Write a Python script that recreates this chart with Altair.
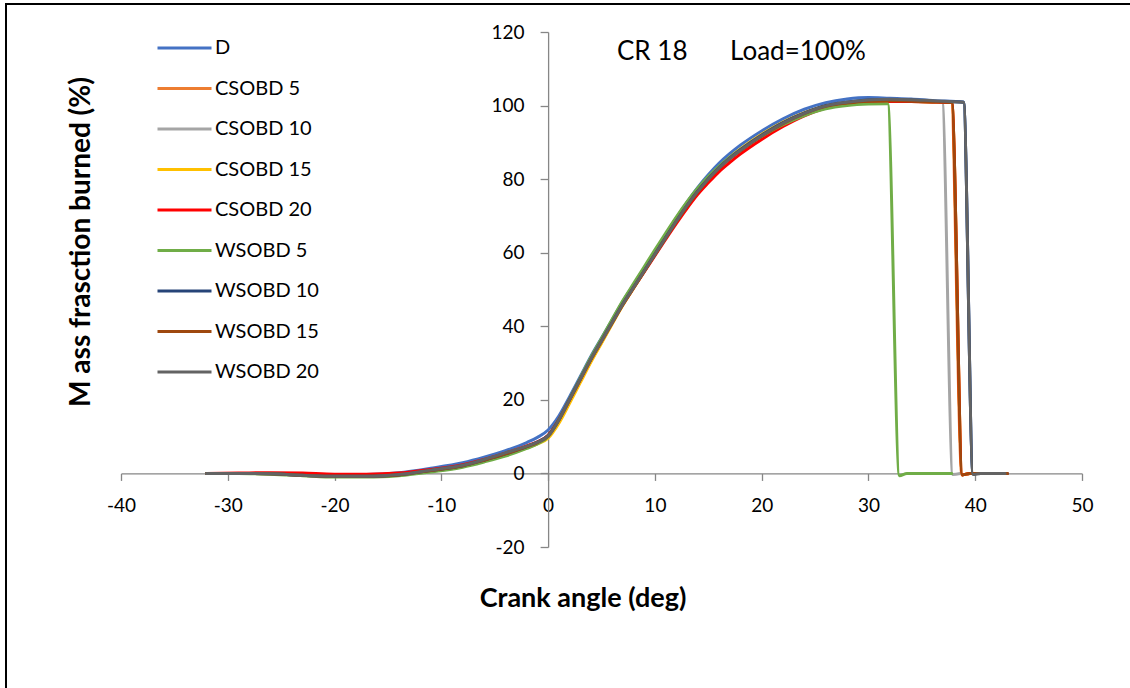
import altair as alt
import pandas as pd

# Series names and line colours
SERIES = ["D", "CSOBD 5", "CSOBD 10", "CSOBD 15", "CSOBD 20",
          "WSOBD 5", "WSOBD 10", "WSOBD 15", "WSOBD 20"]
COLORS = ["#4472C4", "#ED7D31", "#A5A5A5", "#FFC000", "#FF0000",
          "#70AD47", "#264478", "#9E480E", "#636363"]

# Crank angle grid shared by every series (deg)
ANGLE = [-32, -29, -26, -23, -20, -17, -14, -11, -8, -6, -4, -2, -1, 0,
         1, 2, 3, 4, 5, 6, 7, 8, 9, 10, 11, 12, 13, 14, 15, 16, 17, 18,
         20, 22, 24, 26, 28, 30]

# Mass fraction burned (%) on that grid
MFB_D = [0.0, 0.0, 0.0, -0.2, -0.4, -0.3, 0.2, 1.4, 2.9, 4.4, 6.2, 8.4, 9.8, 11.8,
         15.6, 20.8, 26.3, 31.8, 36.8, 41.8, 46.8, 51.3, 55.8, 60.3, 64.9, 69.4,
         73.7, 77.7, 81.2, 84.3, 86.9, 89.2, 93.1, 96.4, 99.0, 100.8, 101.8, 102.2]
MFB_CSOBD5 = [0.0, 0.0, 0.0, -0.3, -0.6, -0.6, -0.2, 0.8, 2.1, 3.5, 5.2, 7.2, 8.4, 10.3,
              14.6, 20.0, 25.4, 30.8, 35.9, 41.0, 46.0, 50.6, 55.2, 59.8, 64.3, 68.8,
              73.0, 76.9, 80.2, 83.2, 85.8, 88.0, 92.0, 95.3, 97.9, 99.8, 100.7, 101.1]
MFB_CSOBD10 = [0.0, 0.0, -0.1, -0.4, -0.7, -0.7, -0.3, 0.7, 2.0, 3.4, 5.0, 7.0, 8.2, 10.0,
               14.2, 19.6, 25.0, 30.5, 35.6, 40.8, 45.8, 50.4, 55.0, 59.6, 64.1, 68.6,
               72.8, 76.7, 80.0, 83.0, 85.6, 87.8, 91.7, 95.0, 97.7, 99.7, 100.7, 101.1]
MFB_CSOBD15 = [0.0, 0.0, -0.1, -0.4, -0.7, -0.7, -0.3, 0.7, 2.0, 3.4, 5.0, 6.9, 8.0, 9.6,
               13.6, 19.0, 24.6, 30.2, 35.4, 40.6, 45.7, 50.3, 54.9, 59.5, 64.1, 68.6,
               72.9, 76.8, 80.2, 83.3, 85.9, 88.2, 92.2, 95.5, 98.1, 99.9, 100.8, 101.2]
MFB_CSOBD20 = [0.0, 0.1, 0.2, 0.1, -0.2, -0.2, 0.1, 1.1, 2.4, 3.8, 5.5, 7.5, 8.6, 10.4,
               14.6, 20.0, 25.5, 31.0, 36.0, 41.0, 45.9, 50.4, 54.8, 59.2, 63.6, 67.9,
               72.0, 75.8, 79.0, 82.0, 84.5, 86.8, 90.8, 94.3, 97.2, 99.3, 100.5, 101.0]
MFB_WSOBD5 = [0.0, 0.0, -0.2, -0.6, -1.0, -1.0, -0.6, 0.4, 1.7, 3.1, 4.7, 6.8, 8.0, 10.0,
              14.5, 20.2, 25.9, 31.5, 36.7, 41.9, 47.0, 51.6, 56.2, 60.8, 65.3, 69.7,
              73.8, 77.5, 80.7, 83.5, 85.9, 88.0, 91.7, 94.8, 97.3, 99.1, 100.0, 100.4]
MFB_WSOBD10 = [0.0, 0.0, -0.1, -0.5, -0.8, -0.8, -0.4, 0.8, 2.1, 3.6, 5.3, 7.3, 8.5, 10.3,
               14.6, 20.1, 25.6, 31.0, 36.1, 41.1, 46.1, 50.6, 55.1, 59.6, 64.1, 68.6,
               72.8, 76.7, 80.1, 83.1, 85.7, 88.0, 92.0, 95.4, 98.0, 100.0, 101.0, 101.5]
MFB_WSOBD15 = [0.0, 0.0, -0.1, -0.5, -0.8, -0.8, -0.4, 0.8, 2.1, 3.6, 5.3, 7.3, 8.4, 10.1,
               14.4, 19.9, 25.4, 30.9, 35.9, 40.9, 45.9, 50.4, 54.9, 59.4, 63.9, 68.4,
               72.6, 76.5, 79.9, 82.9, 85.5, 87.7, 91.7, 95.1, 97.8, 99.8, 100.7, 101.2]
MFB_WSOBD20 = [0.0, 0.0, -0.1, -0.5, -0.8, -0.8, -0.3, 0.9, 2.2, 3.8, 5.6, 7.4, 8.5, 10.2,
               14.5, 20.0, 25.5, 31.0, 36.0, 41.0, 46.0, 50.5, 55.0, 59.5, 64.0, 68.5,
               72.8, 76.6, 80.0, 83.0, 85.6, 87.8, 91.8, 95.2, 97.9, 99.9, 100.9, 101.5]

# End of each record: plateau, then the drop back to zero
TAIL_ANGLE_D = [32, 34, 36, 38.9, 39.8, 41, 43]
TAIL_MFB_D = [102.0, 101.8, 101.4, 101.0, 0.0, 0.0, 0.0]
TAIL_ANGLE_CSOBD5 = [32, 34, 36, 37.75, 38.75, 39.5, 41, 43]
TAIL_MFB_CSOBD5 = [101.2, 101.1, 101.0, 100.8, -0.4, 0.0, 0.0, 0.0]
TAIL_ANGLE_CSOBD10 = [32, 34, 36.9, 37.9, 38.6]
TAIL_MFB_CSOBD10 = [101.2, 101.1, 101.0, -0.3, 0.0]
TAIL_ANGLE_CSOBD15 = [32, 34, 36, 37.8, 38.8, 39.5, 41, 43]
TAIL_MFB_CSOBD15 = [101.3, 101.2, 101.0, 100.8, -0.4, 0.0, 0.0, 0.0]
TAIL_ANGLE_CSOBD20 = [32, 34, 36, 37.8, 38.8, 39.5, 41, 43]
TAIL_MFB_CSOBD20 = [101.1, 101.1, 101.0, 100.8, -0.4, 0.0, 0.0, 0.0]
TAIL_ANGLE_WSOBD5 = [31.8, 32.9, 33.6, 35.5, 37.8]
TAIL_MFB_WSOBD5 = [100.5, -0.6, 0.0, 0.0, 0.0]
TAIL_ANGLE_WSOBD10 = [32, 34, 36, 38.9, 39.8, 41, 43]
TAIL_MFB_WSOBD10 = [101.6, 101.5, 101.2, 100.9, 0.0, 0.0, 0.0]
TAIL_ANGLE_WSOBD15 = [32, 34, 36, 37.8, 38.8, 39.5, 41, 43]
TAIL_MFB_WSOBD15 = [101.3, 101.2, 101.0, 100.8, -0.4, 0.0, 0.0, 0.0]
TAIL_ANGLE_WSOBD20 = [32, 34, 36, 38.9, 39.8, 40.5, 42.8]
TAIL_MFB_WSOBD20 = [101.7, 101.6, 101.3, 100.9, -0.3, 0.0, 0.0]

X_TICKS = [-40, -30, -20, -10, 0, 10, 20, 30, 40, 50]
Y_TICKS = [-20, 0, 20, 40, 60, 80, 100, 120]

MAIN = [MFB_D, MFB_CSOBD5, MFB_CSOBD10, MFB_CSOBD15, MFB_CSOBD20,
        MFB_WSOBD5, MFB_WSOBD10, MFB_WSOBD15, MFB_WSOBD20]
TAIL_A = [TAIL_ANGLE_D, TAIL_ANGLE_CSOBD5, TAIL_ANGLE_CSOBD10, TAIL_ANGLE_CSOBD15,
          TAIL_ANGLE_CSOBD20, TAIL_ANGLE_WSOBD5, TAIL_ANGLE_WSOBD10,
          TAIL_ANGLE_WSOBD15, TAIL_ANGLE_WSOBD20]
TAIL_V = [TAIL_MFB_D, TAIL_MFB_CSOBD5, TAIL_MFB_CSOBD10, TAIL_MFB_CSOBD15,
          TAIL_MFB_CSOBD20, TAIL_MFB_WSOBD5, TAIL_MFB_WSOBD10,
          TAIL_MFB_WSOBD15, TAIL_MFB_WSOBD20]

rows = []
for name, vals, ta, tv in zip(SERIES, MAIN, TAIL_A, TAIL_V):
    for a, v in zip(ANGLE + ta, vals + tv):
        rows.append({"series": name, "angle": a, "mfb": v})
df = pd.DataFrame(rows)

W, H = 961, 515
X_DOM = [-40, 50]
Y_DOM = [-20, 120]
# shift axes so they cross at the origin
X_AXIS_OFFSET = -H * (0 - Y_DOM[0]) / (Y_DOM[1] - Y_DOM[0])
Y_AXIS_OFFSET = -W * (0 - X_DOM[0]) / (X_DOM[1] - X_DOM[0])

FONT = "Lato"
AXIS_GREY = "#868686"
# plain hyphen for negative tick labels
MINUS_EXPR = "datum.value < 0 ? '-' + abs(datum.value) : datum.label"

x_enc = alt.X("angle:Q", scale=alt.Scale(domain=X_DOM, nice=False, zero=False),
              axis=alt.Axis(values=X_TICKS, offset=X_AXIS_OFFSET, title=None, grid=False,
                            domainColor=AXIS_GREY, tickColor=AXIS_GREY, domainWidth=1.3,
                            tickWidth=1.3, tickSize=7, labelFont=FONT, labelFontSize=19,
                            labelColor="black", labelPadding=16, labelFlush=False,
                            labelOverlap=False, labelExpr=MINUS_EXPR))
y_enc = alt.Y("mfb:Q", scale=alt.Scale(domain=Y_DOM, nice=False, zero=False),
              axis=alt.Axis(values=Y_TICKS, offset=Y_AXIS_OFFSET, title=None, grid=False,
                            domainColor=AXIS_GREY, tickColor=AXIS_GREY, domainWidth=1.3,
                            tickWidth=1.3, tickSize=8, labelFont=FONT, labelFontSize=19,
                            labelColor="black", labelPadding=16, labelOverlap=False,
                            labelExpr=MINUS_EXPR))

color_enc = alt.Color("series:N", sort=SERIES,
                      scale=alt.Scale(domain=SERIES, range=COLORS),
                      legend=alt.Legend(orient="none", legendX=35, legendY=6, title=None,
                                        symbolType="stroke", symbolSize=2916,
                                        symbolStrokeWidth=3, clipHeight=20, rowPadding=20.5,
                                        labelFont=FONT, labelFontSize=20, labelColor="black",
                                        labelOffset=2, padding=0, offset=0))

# one layer per series so that later series are drawn on top
series_layers = [
    alt.Chart(df).transform_filter(alt.datum.series == name).mark_line(
        strokeWidth=3, interpolate="monotone", strokeCap="round", strokeJoin="round"
    ).encode(x=x_enc, y=y_enc, color=color_enc)
    for name in SERIES
]

one = pd.DataFrame({"k": [0]})

frame = alt.Chart(one).mark_rect(fillOpacity=0, stroke="black", strokeWidth=2).encode(
    x=alt.value(-115), x2=alt.value(1200), y=alt.value(-28), y2=alt.value(800)
)

title_cr = alt.Chart(one).mark_text(
    text="CR 18", font=FONT, fontSize=26, align="left", baseline="alphabetic", color="black"
).encode(x=alt.value(496), y=alt.value(28))
title_load = alt.Chart(one).mark_text(
    text="Load=100%", font=FONT, fontSize=26, align="left", baseline="alphabetic", color="black"
).encode(x=alt.value(609), y=alt.value(28))

x_title = alt.Chart(one).mark_text(
    text="Crank angle (deg)", font=FONT, fontSize=27, fontWeight="bold",
    align="center", baseline="alphabetic", color="black"
).encode(x=alt.value(462), y=alt.value(575))
y_title = alt.Chart(one).mark_text(
    text="M ass frasction burned (%)", font=FONT, fontSize=28, fontWeight="bold",
    align="center", baseline="alphabetic", angle=270, color="black"
).encode(x=alt.value(-31), y=alt.value(210))

chart = alt.layer(frame, *series_layers, title_cr, title_load, x_title, y_title).properties(
    width=W, height=H,
    autosize=alt.AutoSizeParams(type="none"),
    padding={"left": 121, "top": 32, "right": 48, "bottom": 141},
    background="white",
).configure_view(stroke=None)

chart.save("out.html", embed_options={"renderer": "svg", "actions": False})
